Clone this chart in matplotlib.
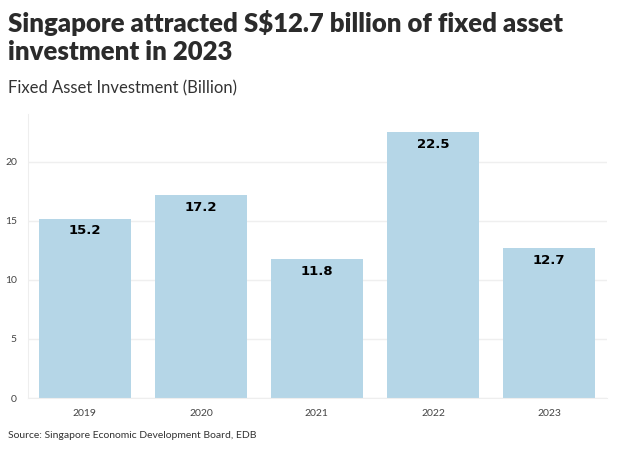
import matplotlib.pyplot as plt

# Fixed asset investment, S$ billion
years = ['2019', '2020', '2021', '2022', '2023']
values = [15.2, 17.2, 11.8, 22.5, 12.7]

plt.rcParams['font.family'] = ['Lato', 'DejaVu Sans']

fig = plt.figure(figsize=(6.24, 4.51), dpi=100)
ax = fig.add_axes([28 / 624, 53 / 451, 579 / 624, 284 / 451])

x = list(range(len(years)))
ax.bar(x, values, width=0.79, color='#b5d6e7', zorder=2)

for xi, v in zip(x, values):
    ax.text(xi, v - 0.5, f'{v:.1f}', ha='center', va='top', fontsize=9.5,
            fontweight='bold', family='DejaVu Sans', color='black', zorder=3)

ax.set_xlim(-0.49, 4.5)
ax.set_ylim(0, 24.05)
ax.set_xticks(x)
ax.set_xticklabels(years)
ax.set_yticks([0, 5, 10, 15, 20])
ax.tick_params(length=0, labelsize=7.5, colors='#444444', pad=8)
ax.grid(axis='y', color='#efefef', linewidth=1, zorder=0)
for side in ['top', 'right']:
    ax.spines[side].set_visible(False)
ax.spines['left'].set_color('#eeeeee')
ax.spines['bottom'].set_color('#eeeeee')

fig.text(8 / 624, 1 - 10 / 451, 'Singapore attracted S$12.7 billion of fixed asset\ninvestment in 2023',
         ha='left', va='top', fontsize=18.5, fontweight='heavy', color='#2b2b2b', linespacing=1.22)
fig.text(8 / 624, 1 - 80 / 451, 'Fixed Asset Investment (Billion)', ha='left', va='top',
         fontsize=12, color='#333333')
fig.text(8 / 624, 1 - 431 / 451, 'Source: Singapore Economic Development Board, EDB', ha='left',
         va='top', fontsize=7.5, color='#333333')

fig.savefig('out.png', dpi=100)
